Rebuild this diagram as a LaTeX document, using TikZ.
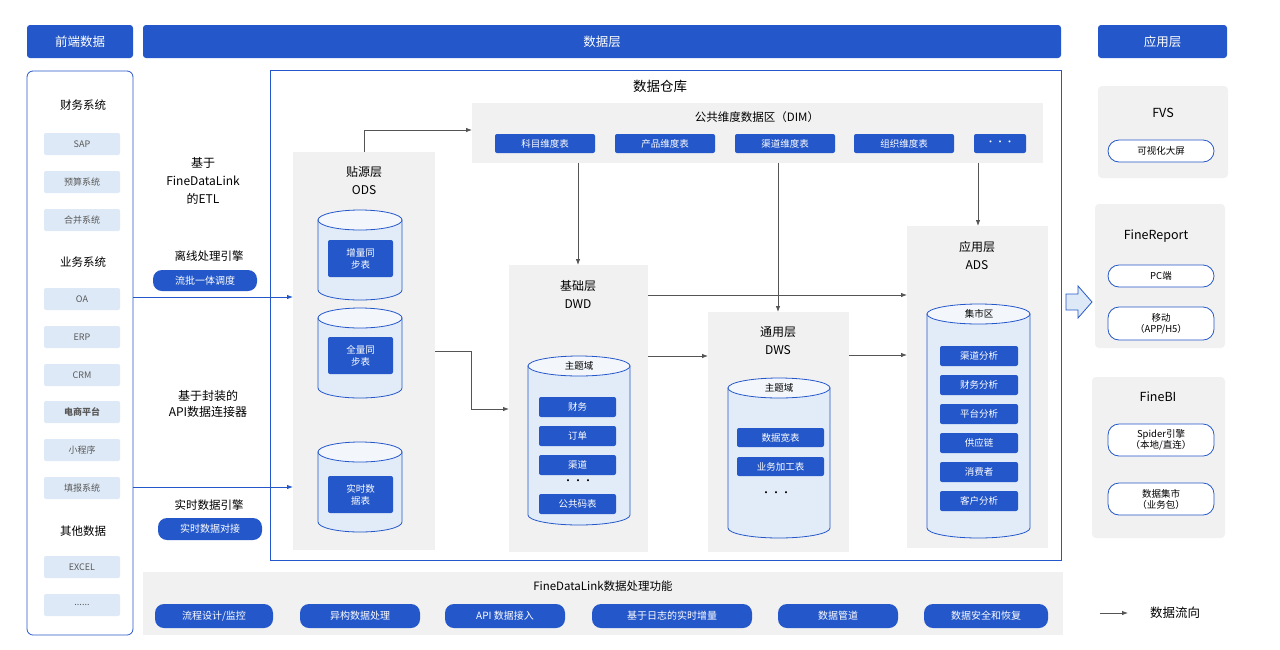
\documentclass[tikz,border=0pt]{standalone}
\usepackage{fontspec}
\setmainfont{Noto Sans CJK SC}
\usetikzlibrary{arrows.meta,positioning}
\definecolor{fblue}{HTML}{2457C9}
\definecolor{pale}{HTML}{DDE9F6}
\definecolor{cylf}{HTML}{E2ECF8}
\definecolor{panel}{HTML}{F1F1F1}
\definecolor{flow}{HTML}{555555}
\tikzset{
  hdr/.style={fill=fblue,rounded corners=3pt,text=white,font=\fontsize{12.5}{14}\selectfont},
  src/.style={fill=pale,rounded corners=2pt,text=black!65,font=\fontsize{9}{10}\selectfont},
  grp/.style={font=\fontsize{11.5}{13}\selectfont},
  item/.style={fill=fblue,rounded corners=2pt,text=white,font=\fontsize{9.5}{11}\selectfont},
  pill/.style={fill=fblue,rounded corners=9pt,text=white,font=\fontsize{10}{11}\selectfont},
  wpill/.style={draw=fblue,fill=white,rounded corners=11pt,thick,font=\fontsize{9.5}{11}\selectfont,align=center},
  layer/.style={fill=panel},
  ttl/.style={font=\fontsize{11.5}{14}\selectfont,align=center},
  arr/.style={flow,thick,-{Latex[length=6pt]}},
  barr/.style={fblue,thick,-{Latex[length=6pt]}}
}
\newcommand\dbcyl[4]{% x left, x right, y top, y bottom
  \pgfmathsetmacro\rx{(#2-#1)/2}
  \filldraw[fill=cylf,draw=fblue,thick] (#1,#3) -- (#1,#4)
    arc[start angle=180,end angle=0,x radius=\rx,y radius=10] -- (#2,#3) -- cycle;
  \filldraw[fill=white!60!cylf,draw=fblue,thick] ({(#1+#2)/2},#3) ellipse[x radius=\rx,y radius=10];
}
\newcommand\rbox[6]{% name, style, x1, y1, x2, y2 ; text set after
  \node[#2,minimum width={((#5)-(#3))*1pt},minimum height={((#6)-(#4))*1pt},inner sep=0pt] (#1) at ({(#3+#5)/2},{(#4+#6)/2})}
\begin{document}
\begin{tikzpicture}[x=1pt,y=-1pt]
  \useasboundingbox (0,0) rectangle (1280,649);
  %Kopfzeile
  \rbox{hFront}{hdr}{27}{25}{133}{58} {前端数据};
  \rbox{hData}{hdr}{143}{25}{1061}{58} {数据层};
  \rbox{hApp}{hdr}{1098}{25}{1227}{58} {应用层};
  %Quellsysteme
  \draw[fblue,thick,rounded corners=6pt] (27,71) rectangle (133,635);
  \node[grp] (gFin) at (83,105) {财务系统};
  \foreach \t/\y/\n in {SAP/144/sap,预算系统/182/ys,合并系统/220/hb,OA/299/oa,ERP/337/erp,CRM/375/crm,\textbf{电商平台}/412/ds,小程序/450/xcx,填报系统/488/tb,EXCEL/567/xl,{{......}}/605/more}
    \rbox{s\n}{src}{44}{\y-11}{120}{\y+11} {\t};
  \node[grp] (gBiz) at (83,262) {业务系统};
  \node[grp] (gOth) at (83,531) {其他数据};
  %ETL
  \node[ttl,font=\fontsize{12}{18}\selectfont] (etl) at (203,181) {基于\\FineDataLink\\的ETL};
  \node[ttl] (offline) at (209,256) {离线处理引擎};
  \rbox{pBatch}{pill}{153}{270}{257}{291} {流批一体调度};
  \node[ttl,font=\fontsize{12}{16}\selectfont] (api) at (208,404) {基于封装的\\API数据连接器};
  \node[ttl] (rt) at (209,505) {实时数据引擎};
  \rbox{pRt}{pill}{158}{518}{262}{540} {实时数据对接};
  %Data warehouse
  \draw[fblue] (270,70) rectangle (1061,560);
  \node[ttl,font=\fontsize{13.5}{15}\selectfont] (dw) at (660,86) {数据仓库};
  %DIM
  \fill[panel] (472,103) rectangle (1043,163);
  \node[ttl] (dimT) at (757,117) {公共维度数据区（DIM）};
  \foreach \t/\a/\b/\n in {科目维度表/495/595/km,产品维度表/615/715/cp,渠道维度表/735/835/qd,组织维度表/854/954/zz,{{···}}/974/1026/etc}
    \rbox{d\n}{item}{\a}{134}{\b}{153} {\t};
  %ODS
  \fill[layer] (293,152) rectangle (435,550);
  \node[ttl,font=\fontsize{12}{18}\selectfont] (ods) at (364,181) {贴源层\\ODS};
  \dbcyl{318}{402}{220}{290}
  \rbox{oInc}{item}{328}{240}{393}{277} {\shortstack{增量同\\步表}};
  \dbcyl{318}{402}{318}{388}
  \rbox{oFull}{item}{328}{337}{393}{374} {\shortstack{全量同\\步表}};
  \dbcyl{318}{402}{452}{522}
  \rbox{oRt}{item}{328}{476}{393}{513} {\shortstack{实时数\\据表}};
  %DWD
  \fill[layer] (509,265) rectangle (648,552);
  \node[ttl,font=\fontsize{12}{18}\selectfont] (dwd) at (578,294) {基础层\\DWD};
  \dbcyl{528}{630}{366}{515}
  \node[font=\fontsize{9.5}{10}\selectfont] (dwdT) at (579,366) {主题域};
  \foreach \t/\y/\n in {财务/407/cw,订单/436/dd,渠道/465/qd,公共码表/504/gg}
    \rbox{w\n}{item}{539}{\y-10}{616}{\y+10} {\t};
  \node (wDots) at (578,482) {···};
  %DWS
  \fill[layer] (708,312) rectangle (849,552);
  \node[ttl,font=\fontsize{12}{18}\selectfont] (dws) at (778,341) {通用层\\DWS};
  \dbcyl{728}{830}{388}{528}
  \node[font=\fontsize{9.5}{10}\selectfont] (dwsT) at (779,388) {主题域};
  \rbox{sKb}{item}{737}{428}{824}{447} {数据宽表};
  \rbox{sJg}{item}{737}{457}{824}{476} {业务加工表};
  \node (sDots) at (776,494) {···};
  %ADS
  \fill[layer] (907,226) rectangle (1048,548);
  \node[ttl,font=\fontsize{12}{18}\selectfont] (ads) at (977,255) {应用层\\ADS};
  \dbcyl{927}{1030}{314}{528}
  \node[font=\fontsize{9.5}{10}\selectfont] (adsT) at (979,314) {集市区};
  \foreach \t/\y/\n in {渠道分析/356/a1,财务分析/385/a2,平台分析/414/a3,供应链/443/a4,消费者/472/a5,客户分析/501/a6}
    \rbox{a\n}{item}{940}{\y-10}{1018}{\y+10} {\t};
  %Verbindungen
  \coordinate (odsTop) at (364,152);
  \coordinate (dimL) at (472,130);
  \draw[arr] (odsTop) |- (dimL);
  \draw[arr] (578,163) -- (578,265);
  \draw[arr] (778,163) -- (778,312);
  \draw[arr] (978,163) -- (978,226);
  \draw[arr] (648,295) -- (907,295);
  \draw[arr] (435,351) -| (471,409) -- (509,409);
  \draw[arr] (648,356) -- (708,356);
  \draw[arr] (849,355) -- (907,355);
  \draw[barr] (133,297) -- (293,297);
  \draw[barr] (133,487) -- (293,487);
  %Funktionen
  \fill[panel] (143,572) rectangle (1063,635);
  \node[ttl] (fdl) at (603,586) {FineDataLink数据处理功能};
  \foreach \t/\a/\b/\n in {{{流程设计/监控}}/155/273/f1,异构数据处理/300/420/f2,API 数据接入/445/565/f3,基于日志的实时增量/592/752/f4,数据管道/778/898/f5,数据安全和恢复/924/1048/f6}
    \rbox{\n}{pill}{\a}{604}{\b}{628} {\t};
  %Anwendungen
  \filldraw[fill=pale,draw=fblue,thick] (1066,294) -- (1078,294) -- (1078,286) -- (1092,302) -- (1078,318) -- (1078,310) -- (1066,310) -- cycle;
  \fill[panel,rounded corners=4pt] (1098,86) rectangle (1228,178);
  \node[ttl,font=\fontsize{12.5}{14}\selectfont] (fvs) at (1163,113) {FVS};
  \rbox{pVis}{wpill}{1108}{140}{1214}{162} {可视化大屏};
  \fill[panel,rounded corners=4pt] (1095,204) rectangle (1225,348);
  \node[ttl,font=\fontsize{12.5}{14}\selectfont] (fr) at (1156,236) {FineReport};
  \rbox{pPc}{wpill}{1108}{265}{1214}{287} {PC端};
  \rbox{pMob}{wpill}{1108}{307}{1214}{340} {移动\\（APP/H5）};
  \fill[panel,rounded corners=4pt] (1092,377) rectangle (1225,538);
  \node[ttl,font=\fontsize{12.5}{14}\selectfont] (fbi) at (1158,397) {FineBI};
  \rbox{pSp}{wpill}{1108}{424}{1214}{456} {Spider引擎\\（本地/直连）};
  \rbox{pMk}{wpill}{1108}{483}{1214}{515} {数据集市\\（业务包）};
  %Legende
  \coordinate (lgA) at (1100,613);
  \coordinate (lgB) at (1128,613);
  \draw[arr] (lgA) -- (lgB);
  \node[ttl,font=\fontsize{12.5}{14}\selectfont] (lg) at (1175,613) {数据流向};
\end{tikzpicture}
\end{document}
